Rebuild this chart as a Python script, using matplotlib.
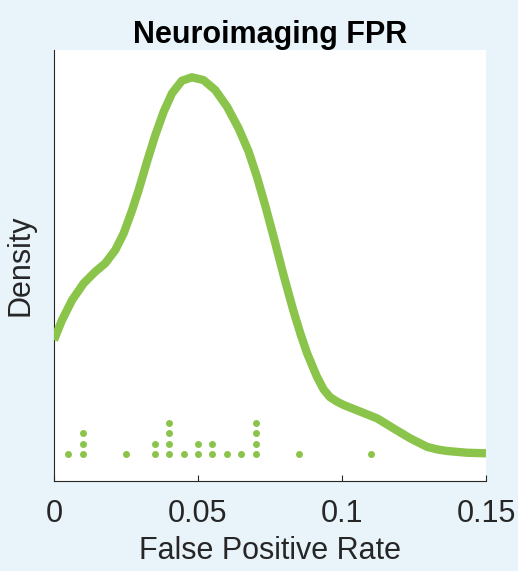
import numpy as np
import matplotlib
matplotlib.use("Agg")
import matplotlib.pyplot as plt

plt.rcParams['font.family'] = ['Liberation Sans', 'DejaVu Sans']

# false positive rates of the individual studies (dot plot)
fpr_values = [0.005, 0.01, 0.025, 0.035, 0.04, 0.045, 0.05, 0.055, 0.06, 0.065, 0.07, 0.085, 0.11]
fpr_counts = [1, 3, 1, 2, 4, 1, 2, 2, 1, 1, 4, 1, 1]

# density curve
curve_x = [0.0, 0.0028, 0.0063, 0.0103, 0.0143, 0.0178, 0.0213, 0.0242, 0.0271, 0.0294,
           0.0323, 0.0352, 0.0381, 0.0410, 0.0444, 0.0479, 0.0519, 0.0560, 0.0601, 0.0641,
           0.0676, 0.0705, 0.0734, 0.0763, 0.0797, 0.0831, 0.0855, 0.0879, 0.0913, 0.0936,
           0.0958, 0.0983, 0.1006, 0.1064, 0.1122, 0.1179, 0.1237, 0.1295, 0.1330, 0.1365,
           0.1434, 0.15]
curve_y = [7.86, 9.24, 10.62, 11.77, 12.57, 13.15, 14.07, 15.22, 16.8, 18.2,
           20.16, 22.0, 23.61, 24.88, 25.74, 25.98, 25.79, 25.10, 23.95, 22.46,
           20.85, 19.1, 17.1, 14.95, 12.35, 9.9, 8.34, 6.94, 5.33, 4.46,
           3.93, 3.61, 3.38, 2.92, 2.46, 1.77, 1.08, 0.50, 0.32, 0.21,
           0.09, 0.05]

xticks = [0, 0.05, 0.1, 0.15]
xtick_labels = ['0', '0.05', '0.1', '0.15']

GREEN = '#8AC44B'
BG = '#E8F3FA'
DOT_STEP = 0.72

fig = plt.figure(figsize=(5.18, 5.71), dpi=100, facecolor=BG)
ax = fig.add_axes([0.1042, 0.1576, 0.8340, 0.7548])
ax.set_facecolor('white')

ax.plot(curve_x, curve_y, color=GREEN, lw=6, solid_joinstyle='round',
        solid_capstyle='butt', zorder=3)

# stack dots for repeated values
dot_x, dot_y = [], []
for v, c in zip(fpr_values, fpr_counts):
  for k in range(c):
    dot_x.append(v)
    dot_y.append(k * DOT_STEP)
ax.plot(dot_x, dot_y, 'o', ms=5, color=GREEN, mec='none', zorder=3)

ax.set_xlim(0, 0.15)
ax.set_ylim(-1.86, 27.86)
ax.set_xticks(xticks)
ax.set_xticklabels(xtick_labels)
ax.set_yticks([])
ax.tick_params(axis='x', direction='in', length=4.5, width=0.8, colors='#262626',
               labelsize=22, pad=13)

for side in ['top', 'right']:
  ax.spines[side].set_visible(False)
for side in ['left', 'bottom']:
  ax.spines[side].set_color('#262626')
  ax.spines[side].set_linewidth(0.8)

ax.set_xlabel('False Positive Rate', fontsize=22, color='#262626', labelpad=5)
ax.set_ylabel('Density', fontsize=22, color='#262626', labelpad=13)
ax.set_title('Neuroimaging FPR', fontsize=22, fontweight='bold', color='black', pad=4)

fig.savefig('out.png', dpi=100, facecolor=BG)
